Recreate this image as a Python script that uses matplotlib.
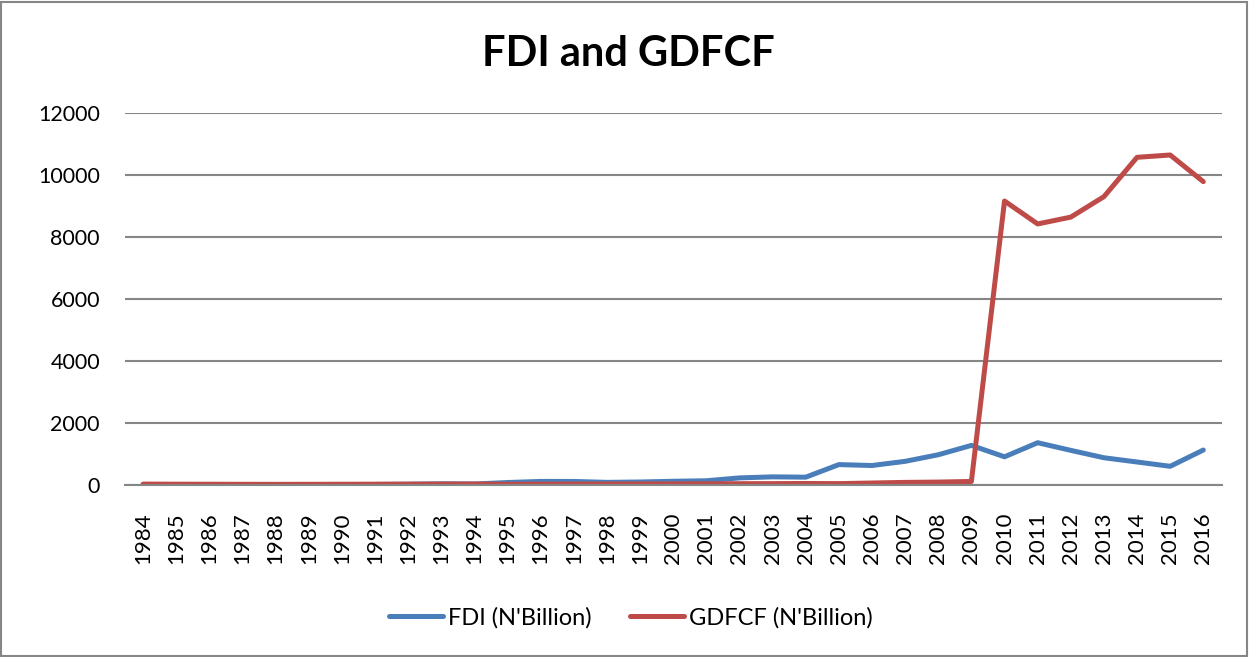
import matplotlib
matplotlib.use("Agg")
import matplotlib.pyplot as plt
from matplotlib.patches import Rectangle

years = list(range(1984, 2017))
fdi = [1.4, 3.0, 4.0, 9.3, 10.6, 10.7, 10.4, 12.2, 20.5, 33.9, 26.5, 75.9,
       111.3, 110.5, 80.8, 92.8, 116.0, 132.4, 225.2, 258.4, 248.2, 654.2,
       624.5, 759.4, 971.5, 1273.8, 905.7, 1360.3, 1113.5, 875.1, 738.2,
       598.8, 1124.4]
gdfcf = [25, 22, 20, 18, 17, 18, 20, 22, 24, 26, 28, 20, 22, 25, 27, 30,
         32, 35, 38, 40, 45, 40, 60, 80, 90, 110, 9160, 8420, 8640, 9300,
         10570, 10645, 9785]

plt.rcParams['font.family'] = ['Lato', 'DejaVu Sans']

fig = plt.figure(figsize=(12.49, 6.57), dpi=100)
ax = fig.add_axes([0.1, 0.262, 0.878, 0.566])

x = list(range(len(years)))
ax.plot(x, fdi, color="#4A7EBB", lw=3.6, solid_capstyle="round",
        solid_joinstyle="round", label="FDI (N'Billion)")
ax.plot(x, gdfcf, color="#BE4B48", lw=3.6, solid_capstyle="round",
        solid_joinstyle="round", label="GDFCF (N'Billion)")

ax.set_ylim(0, 12000)
ax.set_yticks(range(0, 12001, 2000))
ax.set_xlim(-0.55, len(years) - 0.45)
ax.set_xticks(x)
ax.set_xticklabels([str(y) for y in years], rotation=90)
ax.tick_params(axis="y", labelsize=15.5, length=0, colors="black", pad=18)
ax.tick_params(axis="x", labelsize=16, length=0, colors="black", pad=20)
ax.grid(axis="y", color="#868686", lw=1.5)
ax.set_axisbelow(True)
for s in ["top", "right", "left"]:
    ax.spines[s].set_visible(False)
ax.spines["bottom"].set_color("#868686")
ax.spines["bottom"].set_linewidth(1.5)

fig.text(0.503, 0.918, "FDI and GDFCF", ha="center", va="center",
         fontsize=30, fontweight="bold")

fig.legend(loc="center", bbox_to_anchor=(0.505, 0.06), ncol=2,
           frameon=False, fontsize=17, handlelength=2.3, columnspacing=1.6,
           handletextpad=0.2)

fig.add_artist(Rectangle((0.001, 0.001), 0.997, 0.996, transform=fig.transFigure,
                         fill=False, edgecolor="#868686", lw=1.5))

fig.savefig("out.png", dpi=100)
